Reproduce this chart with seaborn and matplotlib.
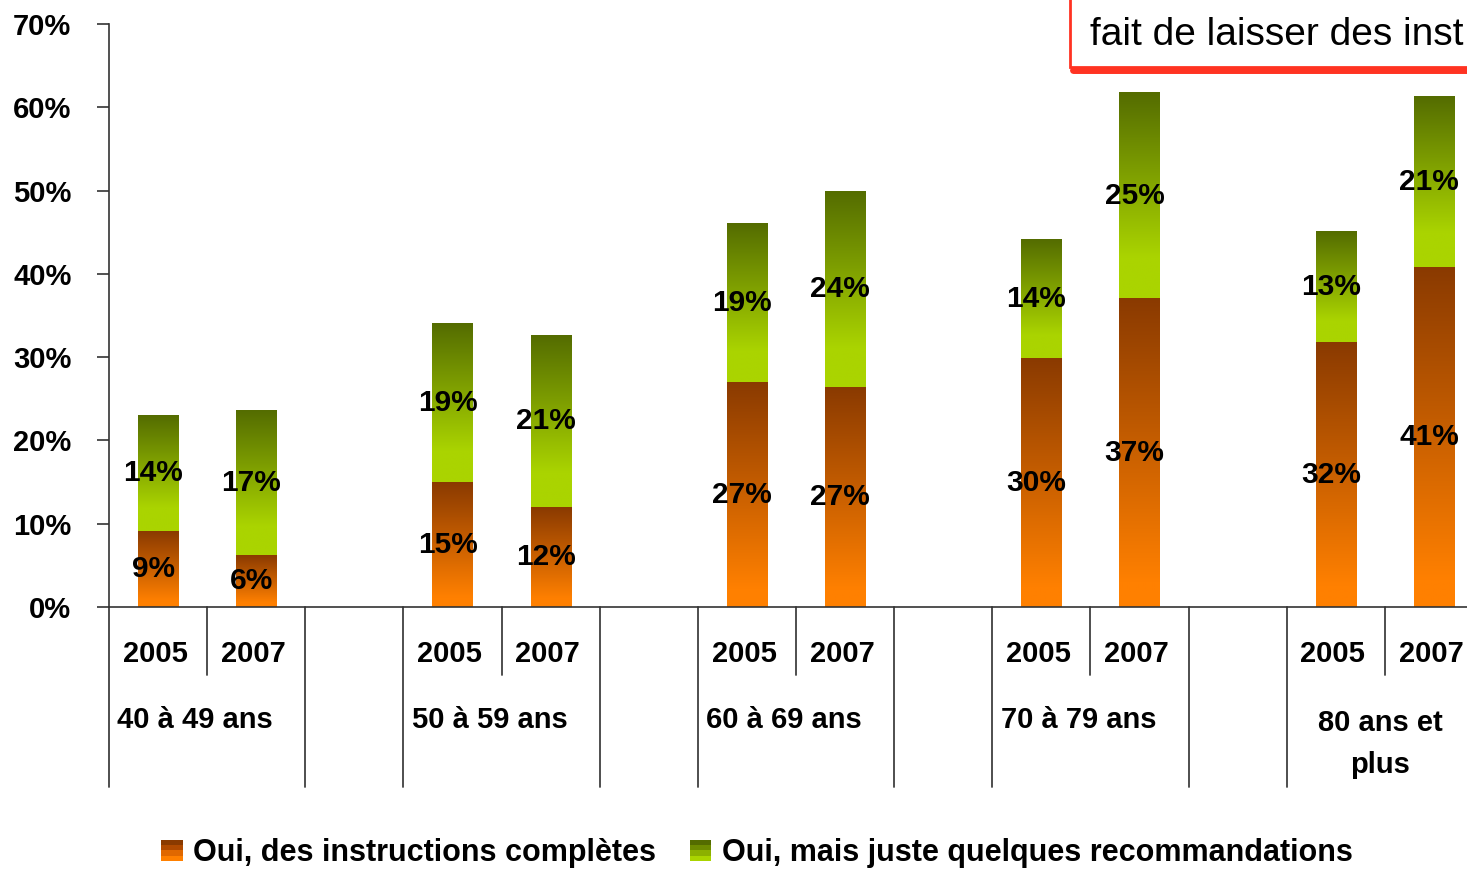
import numpy as np
import pandas as pd
import matplotlib
matplotlib.use('Agg')
import matplotlib.pyplot as plt
import seaborn as sns
from matplotlib.colors import LinearSegmentedColormap
from matplotlib.patches import Rectangle, Patch
from matplotlib.lines import Line2D
from matplotlib.legend_handler import HandlerBase

# data (percent)
groups = ['40 à 49 ans', '50 à 59 ans', '60 à 69 ans', '70 à 79 ans', '80 ans et\nplus']
years = ['2005', '2007']
completes = [9.1, 6.2, 14.9, 12.0, 26.9, 26.4, 29.8, 37.0, 31.7, 40.8]
recommandations = [13.9, 17.3, 19.2, 20.6, 19.2, 23.5, 14.4, 24.8, 13.4, 20.5]
labels_completes = ['9%', '6%', '15%', '12%', '27%', '27%', '30%', '37%', '32%', '41%']
labels_recos = ['14%', '17%', '19%', '21%', '19%', '24%', '14%', '25%', '13%', '21%']
yticks = [0, 10, 20, 30, 40, 50, 60, 70]
serie_names = ['Oui, des instructions complètes', 'Oui, mais juste quelques recommandations']

sns.set_style('ticks')
plt.rcParams['font.family'] = ['Liberation Sans', 'DejaVu Sans']
plt.rcParams['font.weight'] = 'bold'
plt.rcParams['text.color'] = 'black'

# categories with an empty slot between age groups
order = []
for i, g in enumerate(groups):
    for y in years:
        order.append(f'{g}|{y}')
    if i < len(groups) - 1:
        order.append(f'gap{i}')

keys = [f'{g}|{y}' for g in groups for y in years]
df = pd.DataFrame({
    'cle': keys,
    'completes': completes,
    'total': np.array(completes) + np.array(recommandations),
})

fig = plt.figure(figsize=(14.67, 8.69), dpi=100)
ax = fig.add_axes([109 / 1467, 1 - 607 / 869, (1483 - 109) / 1467, (607 - 24) / 869])

sns.barplot(data=df, x='cle', y='total', order=order, color='#AAD400', width=0.41,
            errorbar=None, ax=ax)
sns.barplot(data=df, x='cle', y='completes', order=order, color='#FF8000', width=0.41,
            errorbar=None, ax=ax)

cmap_or = LinearSegmentedColormap.from_list('or', [(0, '#FF8000'), (0.08, '#FF8000'), (1, '#8A3A00')])
cmap_vert = LinearSegmentedColormap.from_list('vert', [(0, '#AAD400'), (0.2, '#AAD400'), (1, '#546C00')])
grad = np.linspace(0, 1, 256).reshape(-1, 1)

pos_of = {k: order.index(k) for k in keys}
bottom_at = {pos_of[k]: v for k, v in zip(keys, completes)}
total_at = {pos_of[k]: v for k, v in zip(keys, df['total'])}
lab_c = {pos_of[k]: v for k, v in zip(keys, labels_completes)}
lab_r = {pos_of[k]: v for k, v in zip(keys, labels_recos)}

for ci, cont in enumerate(ax.containers[:2]):
    for p in cont:
        h = p.get_height()
        if not np.isfinite(h) or h == 0:
            continue
        x0, w = p.get_x(), p.get_width()
        xc = int(round(x0 + w / 2))
        if ci == 0:
            y0, y1, cm, lab = bottom_at[xc], total_at[xc], cmap_vert, lab_r[xc]
        else:
            y0, y1, cm, lab = 0, bottom_at[xc], cmap_or, lab_c[xc]
        p.set_visible(False)
        ax.imshow(grad, extent=[x0, x0 + w, y0, y1], origin='lower', cmap=cm,
                  aspect='auto', interpolation='bilinear', zorder=2)
        ax.text(xc - 0.05, (y0 + y1) / 2, lab, ha='center', va='center',
                fontsize=21.5, fontweight='bold', color='black', zorder=5)

ax.set_xlim(-0.5, len(order) - 0.5)
ax.set_ylim(0, 70)
ax.set_yticks(yticks)
ax.set_yticklabels([f'{v}%' for v in yticks], fontsize=21, fontweight='bold')
ax.tick_params(axis='y', length=9, width=1.2, pad=18, color='#333333', labelcolor='black')
ax.tick_params(axis='x', length=0, labelbottom=False)
ax.set_xlabel('')
ax.set_ylabel('')
sns.despine(ax=ax, top=True, right=True)
for s in ['left', 'bottom']:
    ax.spines[s].set_color('#333333')
    ax.spines[s].set_linewidth(1.2)

# multi-level category axis
trans = ax.get_xaxis_transform()
long_lines = [-0.5]
short_lines = []
for i, g in enumerate(groups):
    start = i * 3
    short_lines.append(start + 0.5)
    long_lines.append(start + 1.5)
    if i < len(groups) - 1:
        long_lines.append(start + 2.5)
for x in long_lines:
    ax.plot([x, x], [0, -0.309], transform=trans, color='#404040', lw=1.3, clip_on=False)
for x in short_lines:
    ax.plot([x, x], [0, -0.117], transform=trans, color='#404040', lw=1.3, clip_on=False)

for i, g in enumerate(groups):
    start = i * 3
    for j, y in enumerate(years):
        ax.text(start + j - 0.03, -0.08, y, transform=trans, ha='center', va='center',
                fontsize=21, fontweight='bold', color='black')
    if '\n' in g:
        ax.text(start + 0.45, -0.235, g, transform=trans, ha='center', va='center',
                fontsize=21, fontweight='bold', linespacing=1.62, multialignment='center',
                color='black')
    else:
        ax.text(start + 0.38, -0.194, g, transform=trans, ha='center', va='center',
                fontsize=21, fontweight='bold', color='black')


class StripeHandler(HandlerBase):
    def __init__(self, colors):
        super().__init__()
        self.colors = colors

    def create_artists(self, legend, orig_handle, xdescent, ydescent, width, height, fontsize, trans):
        n = len(self.colors)
        arts = []
        for i, c in enumerate(self.colors):
            arts.append(Rectangle((-xdescent, -ydescent + height * (n - 1 - i) / n), width, height / n,
                                  facecolor=c, edgecolor='none', transform=trans))
        return arts


h1 = Patch(facecolor='#FF8000')
h2 = Patch(facecolor='#AAD400')
fig.legend([h1, h2], serie_names, loc='center', bbox_to_anchor=(757 / 1467, 1 - 853 / 869),
           ncol=2, frameon=False, prop={'size': 22, 'weight': 'bold'},
           handlelength=0.7, handleheight=0.7, handletextpad=0.35, columnspacing=1.1,
           handler_map={h1: StripeHandler(['#8A3A00', '#B04A00', '#E06800', '#FF8000']),
                        h2: StripeHandler(['#546C00', '#6E8C00', '#8CB000', '#AAD400'])})

# title box, cut by the right edge in the reference
fig.add_artist(Rectangle((1070 / 1467, 1 - 67 / 869), 0.4, 0.2, transform=fig.transFigure,
                         facecolor='white', edgecolor='#FF3322', lw=2, clip_on=False))
fig.add_artist(Line2D([1073 / 1467, 1.05], [1 - 70 / 869] * 2, transform=fig.transFigure,
                      color='#FF3322', lw=5))
fig.text(1090 / 1467, 1 - 45 / 869, 'fait de laisser des inst', ha='left', va='baseline',
         fontsize=28, fontweight='normal', family=['Liberation Sans', 'DejaVu Sans'])

fig.savefig('out.png', dpi=100)
